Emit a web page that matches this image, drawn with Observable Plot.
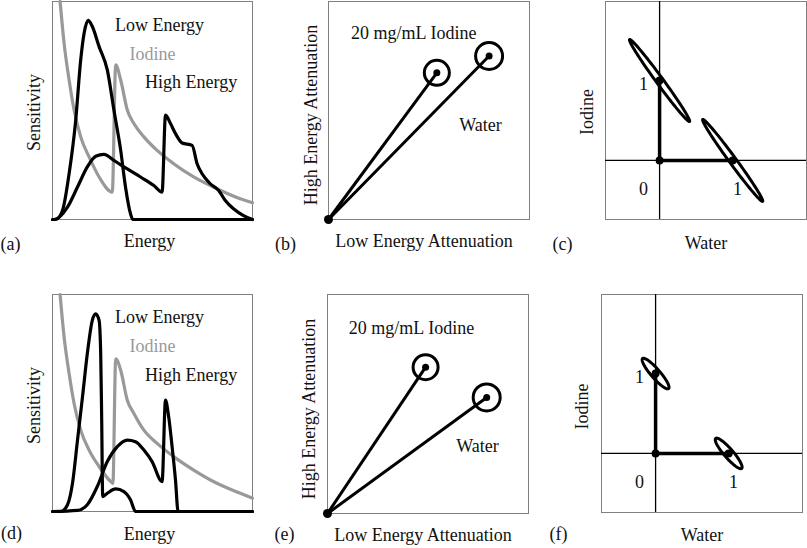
<!DOCTYPE html>
<html><head><meta charset="utf-8">
<script src="https://cdn.jsdelivr.net/npm/d3@7"></script>
<script src="https://cdn.jsdelivr.net/npm/@observablehq/plot@0.6"></script>
<style>
body{margin:0;background:#fff;}
#fig{position:relative;width:807px;height:548px;overflow:hidden;background:#fff;}
#fig svg{position:absolute;overflow:visible;}
</style></head><body><div id="fig"></div>
<script>
// ---------- DATA ----------
// Panels (a)/(d): sensitivity spectra, x = energy (0-100), y = sensitivity (0-100)
const lowEnergyA = [[0,0],[1.7,0],[5,4.1],[8.3,21],[11.6,45.5],[14.1,73.2],[15.8,85.4],[17.8,91.3],[19.9,88.5],[23.3,79.3],[27.4,68.6],[30.7,50.2],[34.1,31.7],[36.5,14.9],[39,2.6],[40.2,0],[100,0]];
const highEnergyA = [[0,0],[0.8,0],[7.5,5.7],[12.5,14.9],[17.4,24.1],[21.6,29],[25.7,29.9],[30.7,27.1],[35.7,24.1],[44,19.5],[50.7,15.6],[54.8,12.6],[56.5,47.9],[59,44],[61.5,39.4],[64.8,35.1],[69.8,34],[72.3,25.6],[74.8,21],[78.9,16.4],[83.1,13.3],[86.4,8.7],[90.5,4.9],[95.5,1.8],[100,0]];
const iodineA = [[3.8,100],[5.8,80.8],[8.3,64],[10.8,50.2],[14.1,37.9],[18.3,28.7],[23.3,19.5],[29.9,12.6],[31.6,70.9],[34.1,64],[37.4,50.2],[40.7,44],[45.7,37.9],[52.3,31.7],[60.6,25.6],[70.6,19.5],[82.2,14.1],[93.9,9.5],[100,7.7]];
const lowEnergyD = [[0,0],[4.2,0],[7.5,3.1],[10,13],[12.5,32.9],[15,52.8],[17.4,72.7],[19.9,88.1],[21.6,91.1],[23.3,88.1],[24.1,72.7],[24.6,42.1],[25.1,6.9],[27.4,8.4],[31.6,10.4],[35.7,9.2],[39,5.4],[41.5,0],[100,0]];
const highEnergyD = [[0,0],[12.5,0.5],[17.4,3.1],[22.4,11.5],[27.4,23],[32.4,29.9],[37.4,32.9],[41.5,32.2],[45.7,28.3],[49.8,23],[54.8,13.8],[56.5,51.3],[58.1,43.6],[59.8,29.9],[61.5,14.5],[62.8,0],[100,0]];
const iodineD = [[3.8,100],[5.8,80.4],[8.3,63.6],[10.8,49.8],[14.1,37.5],[18.3,28.3],[23.3,20.7],[29.1,13.8],[30.2,13],[31.6,70.4],[34.1,65.1],[37.4,51.3],[40.7,45.2],[45.7,37.5],[52.3,31.4],[60.6,25.3],[70.6,19.1],[82.2,13],[93.9,8.4],[100,6.1]];

// Panels (b)/(e): attenuation of materials
const materials = ["20 mg/mL Iodine", "Water"];
const lowAttB = [53.9, 79.9];
const highAttB = [67.3, 75.0];
const lowAttE = [48.8, 79.2];
const highAttE = [66.8, 53.0];

// Panels (c)/(f): decomposition onto water / iodine basis
const basis = ["Iodine", "Water"];
const basisWater = [0, 1];
const basisIodine = [1, 0];
// noise ellipse half-axes (major, minor) in decomposition units
const ellipseMajorC = [0.41, -0.513];
const ellipseMinorC = [0.038, 0.026];
const ellipseMajorF = [0.178, -0.188];
const ellipseMinorF = [0.0465, 0.037];
const basisTicks = [{t:"0", w:-0.22, i:-0.355}, {t:"1", w:-0.22, i:0.95}, {t:"1", w:1.067, i:-0.355}];

// ---------- DRAWING ----------
const FONT = "Liberation Serif";
const FS = 18;
const GRAY = "#999";
const fig = document.getElementById("fig");

function panel({left, top, width, height, frame, xDomain, yDomain, marks}) {
  const [x0, x1, y0, y1] = frame;
  const svg = Plot.plot({
    width, height,
    marginLeft: x0 - left, marginRight: left + width - x1,
    marginTop: y0 - top, marginBottom: top + height - y1,
    x: {domain: xDomain, axis: null},
    y: {domain: yDomain, axis: null},
    r: {type: "identity"},
    style: {fontFamily: FONT, fontSize: FS + "px", background: "transparent", overflow: "visible", color: "#111"},
    marks: [Plot.frame({stroke: "#808080", strokeWidth: 1}), ...marks]
  });
  svg.style.left = left + "px";
  svg.style.top = top + "px";
  fig.appendChild(svg);
}

function axisLabels(xLabel, yLabel, tag, o = {}) {
  return [
    Plot.text([xLabel], {frameAnchor: "bottom", textAnchor: "middle", dx: o.xdx ?? 0, dy: o.xdy ?? 28, fontSize: FS, fill: "#111"}),
    Plot.text([yLabel], {frameAnchor: "left", textAnchor: "middle", rotate: -90, dx: o.ydx ?? -18, dy: o.ydy ?? 2, fontSize: FS, fill: "#111"}),
    Plot.text([tag], {frameAnchor: "bottom-left", textAnchor: "middle", dx: o.tdx ?? -43, dy: o.tdy ?? 30, fontSize: FS, fill: "#111"})
  ];
}

function spectrumMarks(low, high, iod) {
  const px = d => d[0], py = d => d[1];
  return [
    Plot.line(iod, {x: px, y: py, stroke: GRAY, strokeWidth: 3.2, curve: "monotone-x", strokeLinejoin: "round"}),
    Plot.line(high, {x: px, y: py, stroke: "#000", strokeWidth: 3.2, curve: "monotone-x", strokeLinejoin: "round"}),
    Plot.line(low, {x: px, y: py, stroke: "#000", strokeWidth: 3.2, curve: "monotone-x", strokeLinejoin: "round"}),
    Plot.text(["Low Energy"], {x: 53.5, y: 89.3, fontSize: FS, fill: "#111"}),
    Plot.text(["Iodine"], {x: 50, y: 76, fontSize: FS, fill: GRAY}),
    Plot.text(["High Energy"], {x: 69.3, y: 62.8, fontSize: FS, fill: "#111"})
  ];
}

function attenuationMarks(lowAtt, highAtt, labelPos) {
  const pts = materials.map((m, k) => ({m, x: lowAtt[k], y: highAtt[k], r: k === 0 ? 12.5 : 13.5}));
  return [
    Plot.link(pts, {x1: () => 0, y1: () => 0, x2: "x", y2: "y", stroke: "#000", strokeWidth: 3}),
    Plot.dot(pts, {x: "x", y: "y", r: "r", stroke: "#000", strokeWidth: 3, fill: "none"}),
    Plot.dot(pts, {x: "x", y: "y", r: 3.5, fill: "#000"}),
    Plot.dot([0], {x: () => 0, y: () => 0, r: 4.5, fill: "#000"}),
    Plot.text(pts, {x: (d, k) => labelPos[k][0], y: (d, k) => labelPos[k][1], text: "m", fontSize: FS, fill: "#111"})
  ];
}

function ellipse(cx, cy, u, v) {
  return d3.range(0, 96).map(k => {
    const t = 2 * Math.PI * k / 96;
    return {x: cx + Math.cos(t) * u[0] + Math.sin(t) * v[0], y: cy + Math.cos(t) * u[1] + Math.sin(t) * v[1]};
  });
}

function decompMarks(major, minor) {
  const pts = basis.map((b, k) => ({b, x: basisWater[k], y: basisIodine[k]}));
  const ells = pts.map(p => ellipse(p.x, p.y, major, minor));
  return [
    Plot.ruleX([0], {stroke: "#000", strokeWidth: 1.3}),
    Plot.ruleY([0], {stroke: "#000", strokeWidth: 1.3}),
    Plot.link(pts, {x1: () => 0, y1: () => 0, x2: "x", y2: "y", stroke: "#000", strokeWidth: 3.5}),
    ...ells.map(e => Plot.line(e, {x: "x", y: "y", curve: "linear-closed", stroke: "#000", strokeWidth: 3})),
    Plot.dot(pts, {x: "x", y: "y", r: 4, fill: "#000"}),
    Plot.dot([0], {x: () => 0, y: () => 0, r: 4, fill: "#000"}),
    Plot.text(basisTicks, {x: "w", y: "i", text: "t", fontSize: FS, fill: "#111"})
  ];
}

const specDom = {xDomain: [0, 100], yDomain: [0, 100]};
const decDom = {xDomain: [-0.74, 2.01], yDomain: [-0.74, 1.99]};

panel({left: 0, top: 0, width: 270, height: 270, frame: [52, 252, 1, 219], ...specDom,
  marks: [...spectrumMarks(lowEnergyA, highEnergyA, iodineA), ...axisLabels("Energy", "Sensitivity", "(a)", {xdx: -3, xdy: 27, ydy: 2, tdx: -42})]});
panel({left: 270, top: 0, width: 270, height: 270, frame: [328, 529, 1, 219], xDomain: [0, 100], yDomain: [0, 100],
  marks: [...attenuationMarks(lowAttB, highAttB, [[42.4, 85.6], [75.6, 43.1]]), ...axisLabels("Low Energy Attenuation", "High Energy Attenuation", "(b)", {xdx: -5, xdy: 27, ydx: -17, ydy: 4.5})]});
panel({left: 540, top: 0, width: 267, height: 270, frame: [605, 806, 1, 219], ...decDom,
  marks: [...decompMarks(ellipseMajorC, ellipseMinorC), ...axisLabels("Water", "Iodine", "(c)", {xdy: 29, ydy: 1.5, xdx: 0})]});
panel({left: 0, top: 270, width: 270, height: 278, frame: [52, 252, 294, 511], ...specDom,
  marks: [...spectrumMarks(lowEnergyD, highEnergyD, iodineD), ...axisLabels("Energy", "Sensitivity", "(d)", {xdx: -3, xdy: 28, ydy: 2.5, tdy: 27, tdx: -41})]});
panel({left: 270, top: 270, width: 270, height: 278, frame: [327, 528, 294, 513], xDomain: [0, 100], yDomain: [0, 100],
  marks: [...attenuationMarks(lowAttE, highAttE, [[41.8, 84.7], [74.6, 30.8]]), ...axisLabels("Low Energy Attenuation", "High Energy Attenuation", "(e)", {xdx: -5, xdy: 27, ydx: -18, ydy: 5, tdy: 26})]});
panel({left: 540, top: 270, width: 267, height: 278, frame: [601, 802, 294, 512], ...decDom,
  marks: [...decompMarks(ellipseMajorF, ellipseMinorF), ...axisLabels("Water", "Iodine", "(f)", {xdy: 28, ydx: -19, ydy: 3, tdy: 27})]});
</script>
</body></html>
